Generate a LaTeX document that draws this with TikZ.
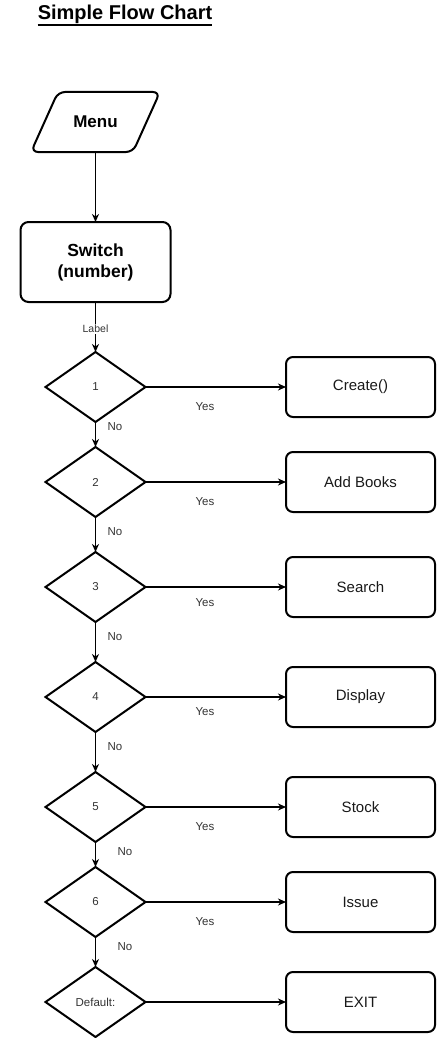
\documentclass[tikz,border=0pt]{standalone}
\usepackage{fontspec}
\setmainfont{Liberation Sans}
\usetikzlibrary{shapes.geometric,arrows.meta}
\definecolor{txtgray}{HTML}{333333}
\tikzset{
  arr/.style={line width=1.3pt,-{Stealth[length=8pt,width=7pt,inset=2.5pt]}},
  dia/.style={diamond,draw,line width=2pt,minimum width=100pt,minimum height=70pt,inner sep=0pt,outer sep=0pt,font=\fontsize{11.5}{13}\selectfont,text=txtgray},
  actbox/.style={rectangle,rounded corners=7pt,draw,line width=2pt,minimum width=149pt,minimum height=60pt,outer sep=0pt,font=\fontsize{15}{17}\selectfont,text=black!90},
  small/.style={font=\fontsize{11.5}{13}\selectfont,text=txtgray,inner sep=1pt},
}
\begin{document}
\begin{tikzpicture}[x=1pt,y=-1pt]
\useasboundingbox (0,0) rectangle (437,1038);
\node[font=\bfseries\fontsize{20}{24}\selectfont,inner sep=0pt] (title) at (125,14) {Simple Flow Chart};
\draw[line width=1.3pt] ([yshift=-1.5pt]title.south west) -- ([yshift=-1.5pt]title.south east);
% Menu parallelogram
\draw[line width=2pt,rounded corners=7pt] (58,92) -- (160,92) -- (133,152) -- (31,152) -- cycle;
\node[minimum width=130pt,minimum height=60pt,inner sep=0pt,outer sep=0pt,font=\bfseries\fontsize{17}{20}\selectfont] (menu) at (95.5,122) {Menu};
\node[rectangle,rounded corners=8pt,draw,line width=2pt,minimum width=150pt,minimum height=80pt,outer sep=0pt,align=center,font=\bfseries\fontsize{17.5}{21}\selectfont] (switch) at (95.5,262) {Switch\\(number)};
\draw[arr] (menu.south) -- (switch.north);
% diamonds
\node[dia] (d1) at (95.5,387) {1};
\node[dia] (d2) at (95.5,482) {2};
\node[dia] (d3) at (95.5,587) {3};
\node[dia] (d4) at (95.5,697) {4};
\node[dia] (d5) at (95.5,807) {5};
\node[dia] (d6) at (95.5,902) {6};
\node[dia] (d7) at (95.5,1002) {Default:};
% boxes
\node[actbox] (b1) at (360.5,387) {Create()};
\node[actbox] (b2) at (360.5,482) {Add Books};
\node[actbox] (b3) at (360.5,587) {Search};
\node[actbox] (b4) at (360.5,697) {Display};
\node[actbox] (b5) at (360.5,807) {Stock};
\node[actbox] (b6) at (360.5,902) {Issue};
\node[actbox] (b7) at (360.5,1002) {EXIT};
% switch to d1 with label
\draw[arr] (switch.south) -- node[fill=white,font=\fontsize{10.5}{12}\selectfont,text=txtgray,inner sep=1pt,pos=0.54] {Label} (d1.north);
% vertical No arrows
\draw[arr] (d1.south) -- (d2.north);
\draw[arr] (d2.south) -- (d3.north);
\draw[arr] (d3.south) -- (d4.north);
\draw[arr] (d4.south) -- (d5.north);
\draw[arr] (d5.south) -- (d6.north);
\draw[arr] (d6.south) -- (d7.north);
% horizontal Yes arrows
\draw[arr] (d1.east) -- (b1.west);
\draw[arr] (d2.east) -- (b2.west);
\draw[arr] (d3.east) -- (b3.west);
\draw[arr] (d4.east) -- (b4.west);
\draw[arr] (d5.east) -- (b5.west);
\draw[arr] (d6.east) -- (b6.west);
\draw[arr] (d7.east) -- (b7.west);
% Yes labels
\node[small] (y1) at (205,407) {Yes};
\node[small] (y2) at (205,502) {Yes};
\node[small] (y3) at (205,603) {Yes};
\node[small] (y4) at (205,712) {Yes};
\node[small] (y5) at (205,827) {Yes};
\node[small] (y6) at (205,922) {Yes};
% No labels
\node[small] (n1) at (115,427) {No};
\node[small] (n2) at (115,532) {No};
\node[small] (n3) at (115,637) {No};
\node[small] (n4) at (115,747) {No};
\node[small] (n5) at (125,852) {No};
\node[small] (n6) at (125,947) {No};
\end{tikzpicture}
\end{document}
